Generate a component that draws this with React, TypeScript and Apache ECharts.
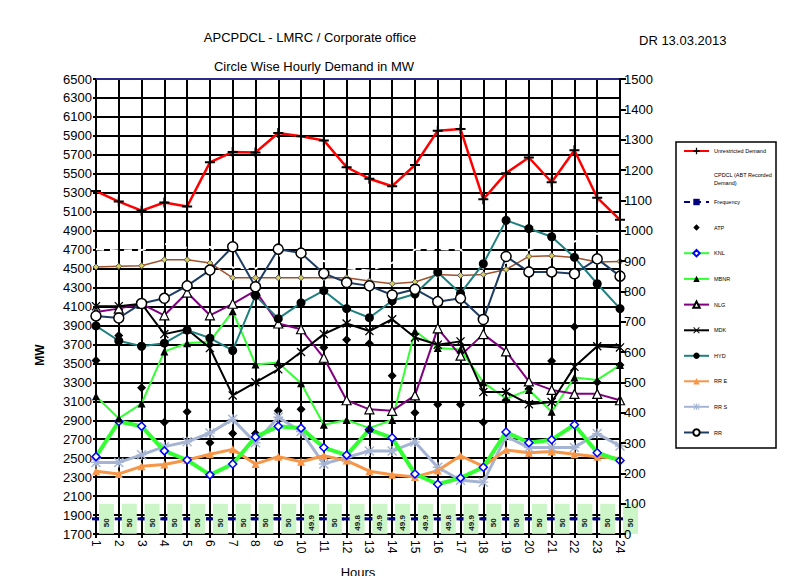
import React, { useEffect, useRef } from "react";
import * as echarts from "echarts";

const hours = ["1","2","3","4","5","6","7","8","9","10","11","12","13","14","15","16","17","18","19","20","21","22","23","24"];
const leftTicks = { min: 1700, max: 6500, step: 200 };
const rightTicks = { min: 0, max: 1500, step: 100 };

const unrestricted = [5318, 5207, 5111, 5197, 5155, 5621, 5731, 5725, 5931, 5897, 5852, 5569, 5448, 5369, 5593, 5955, 5972, 5231, 5507, 5672, 5411, 5748, 5248, 5014];
const cpdclAbt = [4705, 4690, 4695, 4760, 4720, 4730, 4510, 4500, 4640, 4620, 4580, 4505, 4480, 4560, 4700, 4705, 4700, 4500, 4560, 4700, 4765, 4785, 4870, 4700];
const cpdclBrown = [4517, 4524, 4530, 4593, 4593, 4559, 4403, 4403, 4403, 4403, 4403, 4403, 4369, 4341, 4359, 4438, 4428, 4438, 4490, 4628, 4635, 4617, 4569, 4576];
const frequency = [50, 50, 50, 50, 50, 50, 50, 50, 50, 49.9, 50, 49.8, 49.9, 49.9, 49.9, 49.8, 49.9, 50, 50, 50, 50, 50, 50, 50];
const atp = [572, 654, 482, 368, 403, 301, 331, 331, 406, 411, 615, 640, 628, 522, 400, 427, 427, 368, 441, 478, 570, 683, 500, 557];
const knl = [255, 371, 355, 274, 244, 195, 231, 320, 355, 349, 285, 260, 344, 317, 198, 164, 185, 220, 336, 301, 311, 360, 268, 242];
const mbnr = [454, 381, 430, 602, 629, 635, 734, 559, 565, 497, 360, 376, 349, 376, 669, 613, 608, 500, 446, 475, 403, 516, 508, 557];
const nlg = [732, 743, 759, 721, 796, 721, 759, 802, 694, 675, 581, 441, 411, 406, 457, 678, 588, 659, 602, 503, 475, 462, 462, 441];
const mdk = [751, 751, 759, 659, 675, 613, 457, 500, 543, 600, 659, 694, 669, 708, 648, 624, 635, 468, 468, 428, 435, 551, 619, 615];
const hyd = [686, 637, 619, 629, 672, 646, 605, 786, 710, 762, 802, 743, 713, 769, 791, 863, 793, 891, 1034, 1007, 980, 912, 825, 743];
const rrE = [207, 198, 223, 229, 244, 263, 279, 231, 255, 238, 258, 242, 207, 195, 188, 209, 258, 223, 277, 268, 272, 263, 255, 249];
const rrS = [236, 236, 261, 288, 304, 333, 378, 301, 385, 338, 231, 252, 274, 274, 303, 220, 177, 171, 322, 285, 285, 285, 331, 290];
const rr = [719, 712, 760, 777, 818, 870, 947, 815, 939, 926, 859, 829, 818, 788, 807, 766, 777, 707, 915, 864, 864, 858, 907, 850];

const CPDCL_NAME = "CPDCL (ABT Recorded Demand)";

const PLUS = "path://M4,0H6V4H10V6H6V10H4V6H0V4H4Z";
const CROSS = "path://M1,0L5,4L9,0L10,1L6,5L10,9L9,10L5,6L1,10L0,9L4,5L0,1Z";
const STAR = "path://M4.3,0H5.7V4.3H10V5.7H5.7V10H4.3V5.7H0V4.3H4.3Z M1,0L5,4L9,0L10,1L6,5L10,9L9,10L5,6L1,10L0,9L4,5L0,1Z";

const FONT = "Liberation Sans";

export default function App() {
  const ref = useRef<HTMLDivElement>(null);
  useEffect(() => {
    if (!ref.current) return;
    const chart = echarts.init(ref.current, undefined, { renderer: "svg" });

    const lineSeries = (
      name: string,
      data: number[],
      yAxisIndex: number,
      color: string,
      width: number,
      symbol: string,
      symbolSize: any,
      itemStyle: any,
      extra: any = {}
    ) => ({
      name,
      type: "line",
      data,
      yAxisIndex,
      symbol,
      symbolSize,
      showSymbol: symbol !== "none",
      lineStyle: { color, width },
      itemStyle,
      ...extra,
    });

    const legendText = { fontSize: 5.5, lineHeight: 8, color: "#000", fontFamily: FONT };

    const option: any = {
      animation: false,
      backgroundColor: "#ffffff",
      textStyle: { fontFamily: FONT },
      title: [
        { text: "APCPDCL - LMRC / Corporate office", left: 305, top: 26, textAlign: "center", textStyle: { fontSize: 13, fontWeight: "normal", color: "#000", fontFamily: FONT } },
        { text: "DR 13.03.2013", left: 634, top: 29, textStyle: { fontSize: 13, fontWeight: "normal", color: "#000", fontFamily: FONT } },
        { text: "Circle Wise Hourly Demand in MW", left: 309, top: 55, textAlign: "center", textStyle: { fontSize: 13, fontWeight: "normal", color: "#000", fontFamily: FONT } },
      ],
      grid: { left: 96, right: 173, top: 79, bottom: 41, containLabel: false },
      legend: [
        {
          data: ["Unrestricted Demand"],
          orient: "vertical", left: 683, top: 147, padding: 0,
          itemWidth: 25, itemHeight: 8, itemGap: 17.5,
          textStyle: legendText,
        },
        {
          data: [CPDCL_NAME],
          orient: "vertical", left: 683, top: 171, padding: 0,
          itemWidth: 25, itemHeight: 8, itemGap: 17.5,
          formatter: () => "CPDCL (ABT Recorded\nDemand)",
          textStyle: legendText,
        },
        {
          data: ["Frequency", "ATP", "KNL", "MBNR", "NLG", "MDK", "HYD", "RR E", "RR S", "RR"],
          orient: "vertical", left: 683, top: 198, padding: 0,
          itemWidth: 25, itemHeight: 8, itemGap: 17.5,
          textStyle: legendText,
        },
      ],
      xAxis: [
        {
          type: "category",
          data: hours,
          boundaryGap: false,
          name: "Hours",
          nameLocation: "middle",
          nameGap: 32,
          nameTextStyle: { fontSize: 13, color: "#000", fontFamily: FONT },
          axisLine: { lineStyle: { color: "#000", width: 2 } },
          axisTick: { show: true, length: 4, lineStyle: { color: "#000", width: 2 } },
          axisLabel: { rotate: -90, fontSize: 12, color: "#000", margin: 6, interval: 0, fontFamily: FONT },
          splitLine: { show: true, lineStyle: { color: "#000", width: 2 } },
        },
        {
          type: "category",
          data: hours,
          boundaryGap: false,
          position: "top",
          axisLine: { lineStyle: { color: "#2a2a8a", width: 2 } },
          axisTick: { show: false },
          axisLabel: { show: false },
          splitLine: { show: false },
        },
      ],
      yAxis: [
        {
          type: "value",
          min: leftTicks.min,
          max: leftTicks.max,
          interval: leftTicks.step,
          axisLine: { show: false },
          axisTick: { show: true, length: 3, lineStyle: { color: "#000", width: 2 } },
          axisLabel: { fontSize: 13, color: "#000", margin: 4, fontFamily: FONT, formatter: (v: number) => String(v) },
          splitLine: { show: true, lineStyle: { color: "#000", width: 2 } },
        },
        {
          type: "value",
          min: rightTicks.min,
          max: rightTicks.max,
          interval: rightTicks.step,
          position: "right",
          z: 10,
          axisLine: { show: true, lineStyle: { color: "#000", width: 2 } },
          axisTick: { show: true, length: 6, lineStyle: { color: "#000", width: 2 } },
          axisLabel: { fontSize: 13, color: "#000", margin: 4, fontFamily: FONT, formatter: (v: number) => String(v) },
          splitLine: { show: false },
        },
      ],
      graphic: [
        {
          type: "text",
          x: 40, y: 355, rotation: Math.PI / 2,
          style: { text: "MW", fontSize: 12, fontWeight: "bold", fill: "#000", align: "center", verticalAlign: "middle", fontFamily: FONT },
        },
        {
          type: "rect",
          shape: { x: 676, y: 142, width: 100, height: 306 },
          style: { fill: "none", stroke: "#000", lineWidth: 1.5 },
          z: 10,
        },
      ],
      series: [
        lineSeries("CPDCL Demand", cpdclBrown, 0, "#a0522d", 1.5, "diamond", 6, { color: "#d8cf60", borderColor: "#555", borderWidth: 1 }, { z: 2 }),
        lineSeries(CPDCL_NAME, cpdclAbt, 0, "#ffffff", 2, "none", 0, { color: "#ffffff" }, { lineStyle: { color: "#ffffff", width: 2, type: [8, 6] }, z: 2 }),
        lineSeries("Frequency", frequency, 1, "#000080", 3, "rect", [8, 3], { color: "#000080" }, { lineStyle: { color: "#000080", width: 3, type: [6, 5] }, z: 2 }),
        {
          name: "Frequency labels",
          type: "custom",
          yAxisIndex: 1,
          data: frequency.map((v, i) => [i, v]),
          z: 3,
          renderItem: (params: any, api: any) => {
            const p = api.coord([api.value(0), api.value(1)]);
            return {
              type: "group",
              children: [
                { type: "rect", shape: { x: p[0] + 3, y: p[1] - 15, width: 15, height: 30 }, style: { fill: "#ccf5c8" } },
                {
                  type: "text", x: p[0] + 10.5, y: p[1] + 4, rotation: Math.PI / 2,
                  style: { text: String(api.value(1)), fontSize: 8, fontWeight: "bold", fill: "#222", align: "center", verticalAlign: "middle", fontFamily: FONT },
                },
              ],
            };
          },
        },
        lineSeries("ATP", atp, 1, "#000000", 0, "diamond", 9, { color: "#000" }, { lineStyle: { color: "#000", width: 0, opacity: 0 }, z: 4 }),
        lineSeries("RR S", rrS, 1, "#a6b4d4", 3, STAR, 10, { color: "#a6b4d4" }, { z: 4 }),
        lineSeries("RR E", rrE, 1, "#f79646", 3, "triangle", 8, { color: "#f79646" }, { z: 4 }),
        lineSeries("KNL", knl, 1, "#33ff33", 4, "diamond", 8, { color: "#ffffff", borderColor: "#0000ff", borderWidth: 1.5 }, { z: 5 }),
        lineSeries("MBNR", mbnr, 1, "#33ff33", 2, "triangle", 8, { color: "#000" }, { z: 5 }),
        lineSeries("NLG", nlg, 1, "#800080", 2, "triangle", 9, { color: "#ffffff", borderColor: "#000", borderWidth: 1.2 }, { z: 5 }),
        lineSeries("MDK", mdk, 1, "#000000", 2, CROSS, 9, { color: "#000" }, { z: 5 }),
        lineSeries("HYD", hyd, 1, "#1f8080", 2, "circle", 9, { color: "#000" }, { z: 5 }),
        lineSeries("RR", rr, 1, "#1f3d64", 2, "circle", 10, { color: "#ffffff", borderColor: "#000", borderWidth: 1.5 }, { z: 6 }),
        lineSeries("Unrestricted Demand", unrestricted, 0, "#ff0000", 2.5, PLUS, 10, { color: "#000" }, { z: 6 }),
      ],
    };
    chart.setOption(option);
    return () => chart.dispose();
  }, []);
  return <div ref={ref} style={{ width: 793, height: 584, margin: -8 }} />;
}
